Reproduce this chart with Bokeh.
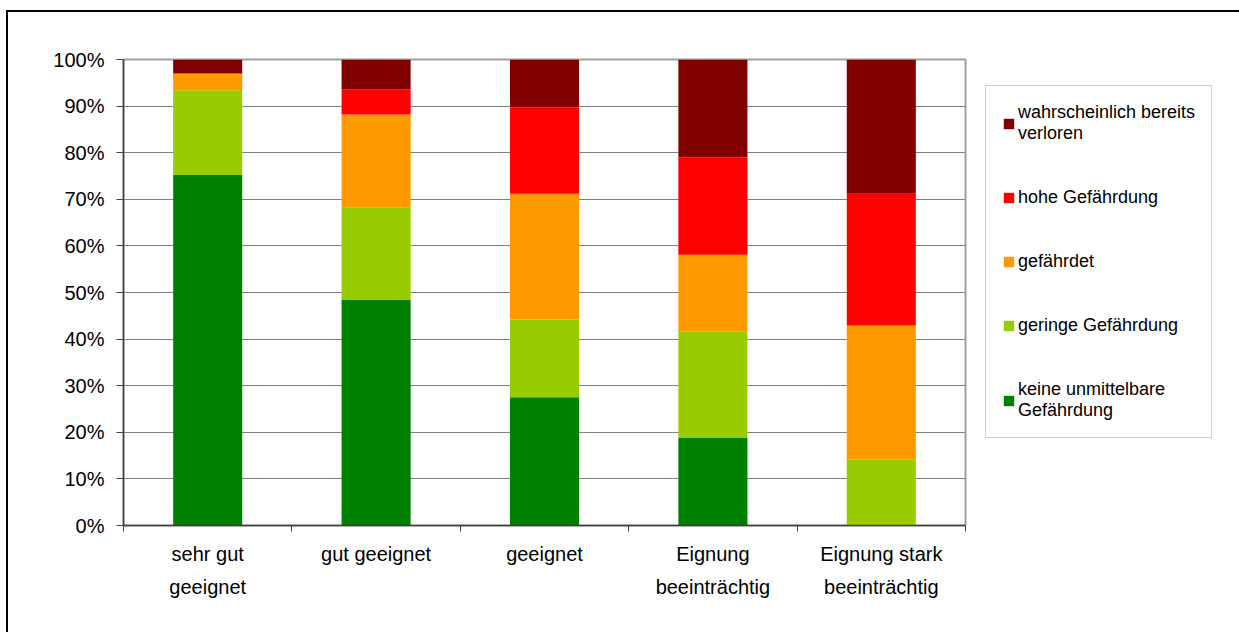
from bokeh.plotting import figure
from bokeh.models import (Range1d, FixedTicker, PrintfTickFormatter, Legend, LegendItem,
                          ColumnDataSource)
from bokeh.embed import file_html
from bokeh.resources import INLINE

categories = ["sehr gut\ngeeignet", "gut geeignet", "geeignet",
              "Eignung\nbeeinträchtig", "Eignung stark\nbeeinträchtig"]
series_names = ["keine unmittelbare\nGefährdung", "geringe Gefährdung", "gefährdet",
                "hohe Gefährdung", "wahrscheinlich bereits\nverloren"]
keine = [75.2, 48.5, 27.5, 18.9, 0.0]
geringe = [18.2, 19.8, 16.7, 22.8, 14.2]
gefaehrdet = [3.6, 19.9, 27.0, 16.4, 28.7]
hohe = [0.0, 5.4, 18.5, 20.9, 28.3]
verloren = [3.0, 6.4, 10.3, 21.0, 28.8]
colors = ["#008000", "#99CC00", "#FF9900", "#FF0000", "#800000"]
y_ticks = [0, 10, 20, 30, 40, 50, 60, 70, 80, 90, 100]

FONT = "Liberation Sans"
xs = [i + 0.5 for i in range(len(categories))]
keys = ["keine", "geringe", "gefaehrdet", "hohe", "verloren"]
source = ColumnDataSource(dict(x=xs, keine=keine, geringe=geringe, gefaehrdet=gefaehrdet,
                               hohe=hohe, verloren=verloren))

p = figure(frame_width=842, frame_height=466, output_backend="svg", toolbar_location=None,
           x_range=Range1d(0, len(categories)), y_range=Range1d(0, 100),
           min_border_left=115, min_border_right=272, min_border_top=47, min_border_bottom=107)
p.styles = {"border-top": "2px solid #000000", "border-left": "2px solid #000000",
            "margin-left": "6px", "margin-top": "10px"}

renderers = p.vbar_stack(keys, x="x", width=0.41, color=colors, line_color=None, source=source)

# axes
p.yaxis.ticker = FixedTicker(ticks=y_ticks, minor_ticks=[])
p.yaxis.formatter = PrintfTickFormatter(format="%d%%")
p.xaxis.ticker = FixedTicker(ticks=xs, minor_ticks=list(range(len(categories) + 1)))
p.xaxis.major_label_overrides = {x: c for x, c in zip(xs, categories)}
for ax in (p.xaxis[0], p.yaxis[0]):
    ax.major_label_text_font = FONT
    ax.major_label_text_font_size = "20px"
    ax.major_label_text_color = "#000000"
    ax.axis_line_color = "#404040"
    ax.axis_line_width = 1.5
p.yaxis.major_tick_out = 7
p.yaxis.major_tick_in = 0
p.yaxis.major_tick_line_color = "#404040"
p.yaxis.major_label_standoff = 12
p.xaxis.major_tick_line_color = None
p.xaxis.minor_tick_out = 6
p.xaxis.minor_tick_in = 0
p.xaxis.minor_tick_line_color = "#404040"
p.xaxis.major_label_standoff = 11
p.xaxis.major_label_text_line_height = 1.5

p.xgrid.grid_line_color = None
p.ygrid.ticker = FixedTicker(ticks=y_ticks)
p.ygrid.grid_line_color = "#808080"
p.ygrid.grid_line_width = 1
p.outline_line_color = "#a0a0a0"
p.outline_line_width = 2

items = [LegendItem(label=series_names[i], renderers=[renderers[i]])
         for i in reversed(range(len(series_names)))]
legend = Legend(items=items, location=(20, 87), orientation="vertical",
                glyph_width=13, glyph_height=13, label_standoff=3,
                label_text_font=FONT, label_text_font_size="18px",
                label_text_color="#000000", label_text_line_height=1.1,
                padding=16, spacing=43, margin=0,
                border_line_color="#a0a0a0", border_line_width=1.5,
                background_fill_color="#ffffff")
p.add_layout(legend, "right")

open("out.html", "w").write(file_html(p, INLINE))
